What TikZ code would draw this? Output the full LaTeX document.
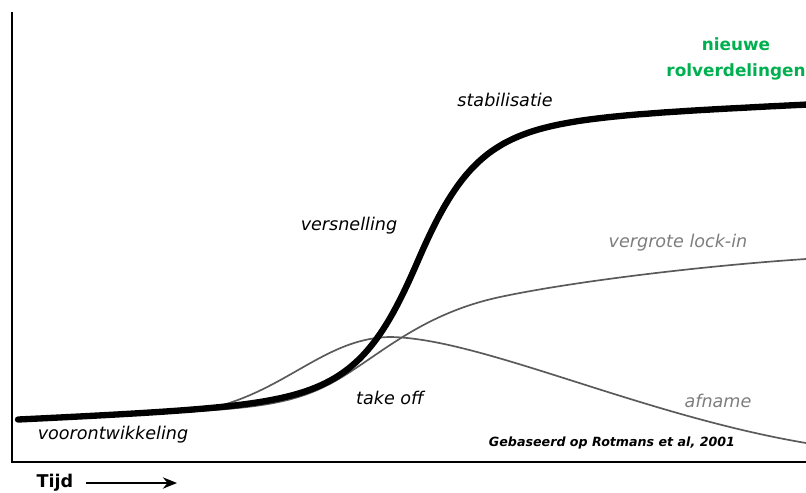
\documentclass[tikz,border=0pt]{standalone}
\usepackage{fontspec}
\setmainfont{DejaVu Sans}
\usepackage{xcolor}
\usetikzlibrary{arrows.meta}
\definecolor{groen}{HTML}{00B050}
\definecolor{lijngrijs}{RGB}{90,90,90}
\definecolor{tekstgrijs}{RGB}{125,125,125}
\tikzset{
  fase/.style={font=\fontsize{12.5}{14}\selectfont\itshape},
  fasegrijs/.style={fase,text=tekstgrijs},
  dun/.style={draw=lijngrijs,line width=1.2pt},
}

\begin{document}
\begin{tikzpicture}[x=0.025cm,y=-0.025cm,
    declare function={sg(\x)=1/(1+exp(-(\x-417.5)/(31+0.08*abs(\x-417.5))));}]
  \useasboundingbox (0,0) rectangle (806,492);
  % axes
  \coordinate (top) at (12,12);
  \coordinate (origin) at (12,462);
  \coordinate (end) at (806,462);
  \draw[line width=1.8pt] (top) -- (origin) -- (end);
  % vergrote lock-in
  \draw[dun] (200,411) .. controls (280,406) and (310,398) .. (350,372)
             .. controls (390,346) and (430,312) .. (500,297)
             .. controls (570,282) and (700,266) .. (806,259);
  % afname
  \draw[dun] (190,412) .. controls (280,400) and (320,338) .. (390,337)
             .. controls (480,338) and (640,415) .. (806,443);
  % transition curve
  \draw[line width=4.5pt,line cap=round] plot[domain=18:806,samples=160,smooth]
        (\x,{420.8-0.044*\x-281.3*sg(\x)});
  % labels
  \node[fase] (voor) at (113,435) {voorontwikkeling};
  \node[fase] (takeoff) at (390,398) {take off};
  \node[fase] (versn) at (349,226) {versnelling};
  \node[fase] (stab) at (505,100) {stabilisatie};
  \node[fasegrijs] (lockin) at (678,243) {vergrote lock-in};
  \node[fasegrijs] (afname) at (718,401) {afname};
  \node[font=\fontsize{12}{19}\selectfont\bfseries,text=groen,align=center] (rollen) at (736,59) {nieuwe\\rolverdelingen};
  \node[font=\fontsize{9}{11}\selectfont\bfseries\itshape] (bron) at (612,443) {Gebaseerd op Rotmans et al, 2001};
  % time arrow
  \node[font=\fontsize{12.5}{14}\selectfont\bfseries] (tijd) at (55,483) {Tijd};
  \coordinate (tijdeind) at (177,483);
  \draw[line width=1.5pt,-{Stealth[length=10pt,width=8pt]}] (tijd.east) ++(8,0) -- (tijdeind);
\end{tikzpicture}
\end{document}
